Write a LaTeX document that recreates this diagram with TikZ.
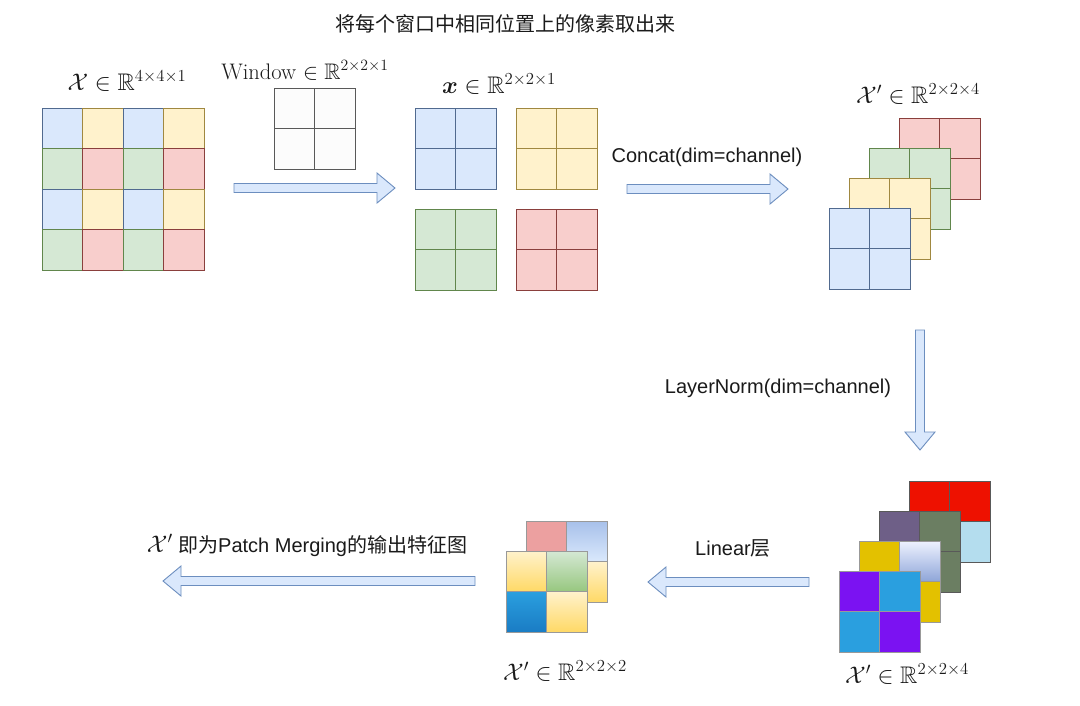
\RequirePackage{fix-cm}
\documentclass[tikz,border=0pt]{standalone}
\usepackage{amsmath,amssymb}
\usepackage{fontspec}
\setsansfont{Liberation Sans}
\newfontfamily\cjk{Noto Sans CJK SC}
\usetikzlibrary{calc}
\definecolor{bluef}{HTML}{DAE8FC}\definecolor{blues}{HTML}{6C8EBF}
\definecolor{yelf}{HTML}{FFF2CC}\definecolor{yels}{HTML}{D6B656}
\definecolor{grnf}{HTML}{D5E8D4}\definecolor{grns}{HTML}{82B366}
\definecolor{redf}{HTML}{F8CECC}\definecolor{reds}{HTML}{B85450}
\definecolor{arrf}{HTML}{DAE8FC}\definecolor{arrs}{HTML}{6C8EBF}
\definecolor{txt}{HTML}{1A1A1A}
\definecolor{bred}{HTML}{EE1100}\definecolor{lightb}{HTML}{B4DDEE}
\definecolor{pgray}{HTML}{6E5F87}\definecolor{ggreen}{HTML}{6B7E62}
\definecolor{gold}{HTML}{E3C100}\definecolor{purp}{HTML}{7B12F2}
\definecolor{cyanb}{HTML}{2A9FDF}
\definecolor{gradbl}{HTML}{8EA5D8}\definecolor{gradtop}{HTML}{EEF2FF}
\definecolor{pinkr}{HTML}{ECA0A0}
\definecolor{blt}{HTML}{A7C0EA}
\definecolor{ydeep}{HTML}{FFD966}
\definecolor{gdeep}{HTML}{97C77F}
\definecolor{bdeep}{HTML}{1A7CC4}
% 2x2 square: x, y, TL, TR, BL, BR, line style
\newcommand\gridsq[7]{%
  \path[#3] (#1,#2) rectangle ++(40.5,40.5);
  \path[#4] ({#1+40.5},#2) rectangle ++(40.5,40.5);
  \path[#5] (#1,{#2+40.5}) rectangle ++(40.5,40.5);
  \path[#6] ({#1+40.5},{#2+40.5}) rectangle ++(40.5,40.5);
  \draw[#7] (#1,#2) rectangle ++(81,81) ({#1+40.5},#2) -- ++(0,81) (#1,{#2+40.5}) -- ++(81,0);
}
\newcommand\onecell[4]{%
  \draw[fill=#3, draw=#4!75!black, line width=0.8pt] (#1,#2) rectangle ++(40.5,40.5);
}
\tikzset{
  mathlbl/.style={anchor=base, text=txt, font=\fontsize{24}{28}\selectfont},
  sanslbl/.style={anchor=base, text=txt, font=\sffamily\fontsize{20}{24}\selectfont},
  blockarrow/.style={draw=arrs, fill=arrf, line width=0.9pt, line join=miter,
    to path={
      ($(\tikztostart)!4.5pt!90:(\tikztotarget)$)
      -- ($(\tikztotarget)!18pt!(\tikztostart)!4.5pt!-90:(\tikztostart)$)
      -- ($(\tikztotarget)!18pt!(\tikztostart)!15pt!-90:(\tikztostart)$)
      -- (\tikztotarget)
      -- ($(\tikztotarget)!18pt!(\tikztostart)!15pt!90:(\tikztostart)$)
      -- ($(\tikztotarget)!18pt!(\tikztostart)!4.5pt!90:(\tikztostart)$)
      -- ($(\tikztostart)!4.5pt!-90:(\tikztotarget)$)
      -- cycle
    }},
  pastel/.style={draw=#1!75!black, line width=0.8pt},
  darkline/.style={draw=black!65, line width=0.7pt},
  softline/.style={draw=black!40, line width=0.6pt}
}
\begin{document}
\begin{tikzpicture}[x=1pt,y=-1pt]
\useasboundingbox[fill=white] (0,0) rectangle (1080,705);

% title
\node[anchor=base, text=txt, font=\cjk\fontsize{20}{24}\selectfont] (title) at (505,31) {将每个窗口中相同位置上的像素取出来};

% input 4x4 grid
\foreach \r in {0,1,2,3}{
  \foreach \c in {0,1,2,3}{
    \pgfmathtruncatemacro\k{mod(\r,2)*2+mod(\c,2)}
    \ifcase\k
      \onecell{42+40.5*\c}{108+40.5*\r}{bluef}{blues}
    \or
      \onecell{42+40.5*\c}{108+40.5*\r}{yelf}{yels}
    \or
      \onecell{42+40.5*\c}{108+40.5*\r}{grnf}{grns}
    \else
      \onecell{42+40.5*\c}{108+40.5*\r}{redf}{reds}
    \fi
  }
}
\node[mathlbl] (lx) at (127,90) {$\mathcal{X}\in\mathbb{R}^{4\times4\times1}$};

% window
\gridsq{274}{88}{fill=black!1}{fill=black!1}{fill=black!1}{fill=black!1}{darkline}
\node[mathlbl, font=\fontsize{22.5}{26}\selectfont] (lw) at (305,79) {Window $\in\mathbb{R}^{2\times2\times1}$};

% split squares
\gridsq{415}{108}{fill=bluef}{fill=bluef}{fill=bluef}{fill=bluef}{pastel=blues}
\gridsq{516}{108}{fill=yelf}{fill=yelf}{fill=yelf}{fill=yelf}{pastel=yels}
\gridsq{415}{209}{fill=grnf}{fill=grnf}{fill=grnf}{fill=grnf}{pastel=grns}
\gridsq{516}{209}{fill=redf}{fill=redf}{fill=redf}{fill=redf}{pastel=reds}
\node[mathlbl] (lsx) at (499,93) {$\boldsymbol{x}\in\mathbb{R}^{2\times2\times1}$};

% stacked 2x2x4
\gridsq{899}{118}{fill=redf}{fill=redf}{fill=redf}{fill=redf}{pastel=reds}
\gridsq{869}{148}{fill=grnf}{fill=grnf}{fill=grnf}{fill=grnf}{pastel=grns}
\gridsq{849}{178}{fill=yelf}{fill=yelf}{fill=yelf}{fill=yelf}{pastel=yels}
\gridsq{829}{208}{fill=bluef}{fill=bluef}{fill=bluef}{fill=bluef}{pastel=blues}
\node[mathlbl] (ls4) at (918,103) {$\mathcal{X}'\in\mathbb{R}^{2\times2\times4}$};

% after layernorm
\gridsq{909}{481}{fill=bred}{fill=bred}{fill=bred}{fill=lightb}{darkline}
\gridsq{879}{511}{fill=pgray}{fill=ggreen}{fill=ggreen}{fill=ggreen}{darkline}
\gridsq{859}{541}{fill=gold}{top color=gradtop,bottom color=gradbl}{fill=gold}{fill=gold}{softline}
\gridsq{839}{571}{fill=purp}{fill=cyanb}{fill=cyanb}{fill=purp}{softline}
\node[mathlbl] (ln4) at (907,683) {$\mathcal{X}'\in\mathbb{R}^{2\times2\times4}$};

% after linear
\gridsq{526}{521}{fill=pinkr}{top color=blt,bottom color=bluef}{fill=yelf}{top color=yelf,bottom color=ydeep}{softline}
\gridsq{506}{551}{top color=yelf,bottom color=ydeep}{top color=grnf,bottom color=gdeep}{top color=cyanb,bottom color=bdeep}{top color=yelf,bottom color=ydeep}{softline}
\node[mathlbl] (ln2) at (565,680) {$\mathcal{X}'\in\mathbb{R}^{2\times2\times2}$};

% arrows
\coordinate (a1s) at (234,188); \coordinate (a1e) at (395,188);
\coordinate (a2s) at (627,189); \coordinate (a2e) at (788,189);
\coordinate (a3s) at (920,330); \coordinate (a3e) at (920,450);
\coordinate (a4s) at (809,582); \coordinate (a4e) at (648,582);
\coordinate (a5s) at (475,581); \coordinate (a5e) at (163,581);
\draw[blockarrow] (a1s) to (a1e);
\draw[blockarrow] (a2s) to (a2e);
\draw[blockarrow] (a3s) to (a3e);
\draw[blockarrow] (a4s) to (a4e);
\draw[blockarrow] (a5s) to (a5e);

\node[sanslbl] (lcat) at (707,162) {Concat(dim=channel)};
\node[sanslbl] (lln) at (778,393) {LayerNorm(dim=channel)};
\node[sanslbl] (llin) at (733,555) {Linear{\cjk 层}};
\node[sanslbl] (lout) at (307,552) {{\rmfamily\fontsize{24}{28}\selectfont$\mathcal{X}'$} {\cjk 即为}Patch Merging{\cjk 的输出特征图}};
\end{tikzpicture}
\end{document}
